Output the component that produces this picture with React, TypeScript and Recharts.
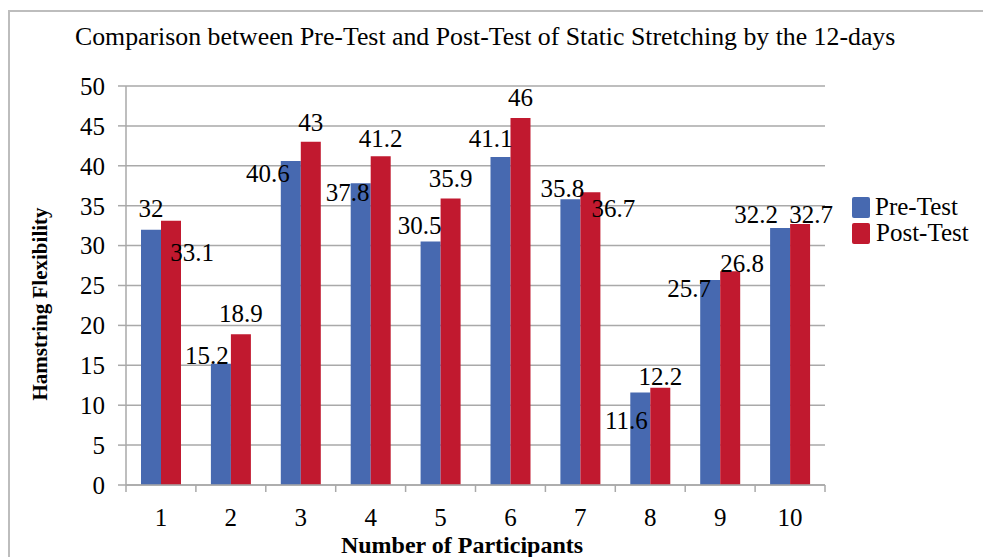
import React from "react"
import { BarChart, Bar, XAxis, YAxis, CartesianGrid, LabelList } from "recharts"

const categories = ["1", "2", "3", "4", "5", "6", "7", "8", "9", "10"]
const preTest = [32, 15.2, 40.6, 37.8, 30.5, 41.1, 35.8, 11.6, 25.7, 32.2]
const postTest = [33.1, 18.9, 43, 41.2, 35.9, 46, 36.7, 12.2, 26.8, 32.7]
const yTicks = [0, 5, 10, 15, 20, 25, 30, 35, 40, 45, 50]

// where each value label sits, relative to the top centre of its bar (Excel labels were dragged around)
const preLabelShift = [[0, -21], [-14, -8], [-23, 12], [-13, 9], [-11, -16], [-10, -19], [-8, -11], [-14, 28], [-21, 9], [-24, -14]]
const postLabelShift = [[21, 32], [0, -21], [0, -19], [0, -18], [0, -20], [0, -20], [23, 16], [0, -11], [12, -8], [11, -10]]

const data = categories.map((c, i) => ({ name: c, pre: preTest[i], post: postTest[i] }))

const W = 983
const H = 557
const PLOT_LEFT = 126
const PLOT_RIGHT = 825
const BAND = (PLOT_RIGHT - PLOT_LEFT) / categories.length
const FONT = "'Liberation Serif', 'Times New Roman', serif"
const BLUE = "#4769b0"
const RED = "#c1192f"
const GRID = "#a9a9a9"

function makeLabel(shift: number[][]) {
  return (props: any) => {
    const { x, y, width, value, index } = props
    const [dx, dy] = shift[index] || [0, -20]
    return (
      <text
        x={x + width / 2 + dx}
        y={y + dy}
        textAnchor="middle"
        dominantBaseline="central"
        fontFamily={FONT}
        fontSize={25}
        fill="#000"
      >
        {value}
      </text>
    )
  }
}

function XTick(props: any) {
  const { x, y, payload, index } = props
  const left = x - BAND / 2
  return (
    <g>
      <line x1={left} x2={left} y1={y} y2={y + 7} stroke={GRID} strokeWidth={1.5} />
      {index === categories.length - 1 && (
        <line x1={x + BAND / 2} x2={x + BAND / 2} y1={y} y2={y + 7} stroke={GRID} strokeWidth={1.5} />
      )}
      <text x={x} y={y + 32} textAnchor="middle" dominantBaseline="central" fontFamily={FONT} fontSize={25} fill="#000">
        {payload.value}
      </text>
    </g>
  )
}

export default function App() {
  return (
    <div style={{ position: "absolute", left: 0, top: 0, width: W, height: H, background: "#fff", fontFamily: FONT }}>
      <div
        style={{
          position: "absolute",
          left: 8,
          top: 10,
          right: 0,
          bottom: 0,
          borderTop: "2px solid #bdbdbd",
          borderLeft: "2px solid #bdbdbd",
        }}
      />
      <div style={{ position: "absolute", left: 75, top: 22, fontSize: 25.8, color: "#000", whiteSpace: "nowrap" }}>
        Comparison between Pre-Test and Post-Test of Static Stretching by the 12-days
      </div>
      <BarChart
        width={W}
        height={H}
        data={data}
        margin={{ top: 86, right: W - PLOT_RIGHT, bottom: 0, left: 0 }}
        barSize={20}
        barGap={0}
      >
        <CartesianGrid vertical={false} stroke={GRID} strokeWidth={1.5} />
        <XAxis
          dataKey="name"
          height={72}
          axisLine={{ stroke: GRID, strokeWidth: 1.5 }}
          tickLine={false}
          tickSize={0}
          tickMargin={0}
          tick={<XTick />}
          interval={0}
          label={{
            content: () => (
              <text x={462} y={545} textAnchor="middle" dominantBaseline="central" fontFamily={FONT} fontSize={24} fontWeight="bold" fill="#000">
                Number of Participants
              </text>
            ),
          }}
        />
        <YAxis
          width={PLOT_LEFT}
          domain={[0, 50]}
          ticks={yTicks}
          interval={0}
          axisLine={{ stroke: GRID, strokeWidth: 1.5 }}
          tickLine={{ stroke: GRID, strokeWidth: 1.5 }}
          tickSize={8}
          tickMargin={13}
          tick={{ fill: "#000", fontSize: 25, fontFamily: FONT }}
          label={{
            content: () => (
              <text
                x={40}
                y={304}
                transform="rotate(-90 40 304)"
                textAnchor="middle"
                dominantBaseline="central"
                fontFamily={FONT}
                fontSize={21}
                fontWeight="bold"
                fill="#000"
              >
                Hamstring Flexibility
              </text>
            ),
          }}
        />
        <Bar dataKey="pre" name="Pre-Test" fill={BLUE} isAnimationActive={false}>
          <LabelList dataKey="pre" content={makeLabel(preLabelShift)} />
        </Bar>
        <Bar dataKey="post" name="Post-Test" fill={RED} isAnimationActive={false}>
          <LabelList dataKey="post" content={makeLabel(postLabelShift)} />
        </Bar>
      </BarChart>
      <div style={{ position: "absolute", left: 852, top: 194, fontSize: 25, color: "#000", lineHeight: "26px" }}>
        <div style={{ display: "flex", alignItems: "center", height: 26 }}>
          <span style={{ width: 18, height: 21, background: BLUE, borderRadius: 2, marginRight: 5, display: "inline-block" }} />
          Pre-Test
        </div>
        <div style={{ display: "flex", alignItems: "center", height: 26 }}>
          <span style={{ width: 18, height: 21, background: RED, borderRadius: 2, marginRight: 6, display: "inline-block" }} />
          Post-Test
        </div>
      </div>
    </div>
  )
}
